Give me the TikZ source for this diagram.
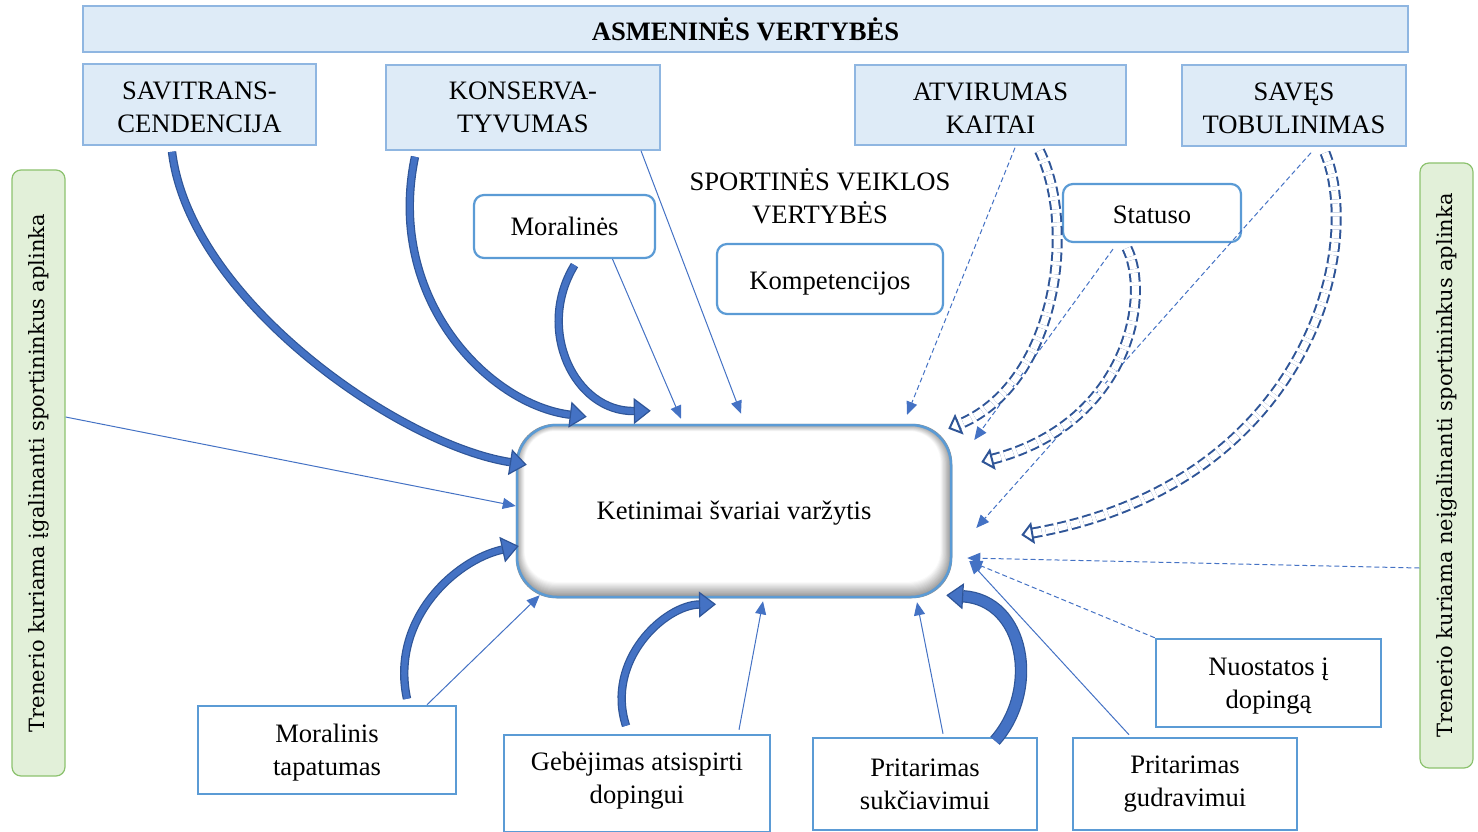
\documentclass[tikz,border=0pt]{standalone}
\usepackage{fontspec}
\setmainfont{Liberation Serif}
\newfontfamily\envfont{DejaVu Serif}
\usetikzlibrary{arrows.meta,backgrounds}

\definecolor{valfill}{HTML}{DEEBF7}
\definecolor{valline}{HTML}{8FB6E1}
\definecolor{boxline}{HTML}{5B9BD5}
\definecolor{arrblue}{HTML}{4472C4}
\definecolor{arrdark}{HTML}{2F5597}
\definecolor{envfill}{HTML}{E2F0D9}
\definecolor{envline}{HTML}{8CC26E}

\newcommand{\tpad}[1]{\rule{0pt}{#1pt}}

\tikzset{
  valbox/.style={draw=valline, fill=valfill, line width=1.5pt, align=center,
    inner sep=0pt},
  roundbox/.style={draw=boxline, fill=white, line width=2.2pt, rounded corners=10pt,
    align=center, inner sep=0pt},
  outbox/.style={draw=boxline, fill=white, line width=2.5pt, align=center, inner sep=0pt},
  envbox/.style={draw=envline, fill=envfill, line width=1.2pt, rounded corners=9pt,
    rotate=90, inner sep=0pt, font=\envfont\fontsize{21}{25}\selectfont},
  thin/.style={draw=arrblue, line width=1pt, -{Triangle[width=11pt,length=13pt]}},
  thindash/.style={thin, dash pattern=on 5pt off 3pt},
  block/.style={draw=arrdark, line width=1.2pt, double=arrblue, double distance=6pt,
    -{Triangle[width=26pt,length=17pt,fill=arrblue]}},
  blockdash/.style={draw=arrdark, line width=2pt, double=white, double distance=7pt,
    dash pattern=on 9pt off 4pt, -{Triangle[open,width=22pt,length=12pt]}},
}

\begin{document}
\begin{tikzpicture}[x=1pt,y=-1pt,font=\fontsize{26.6}{33}\selectfont]
  \useasboundingbox (0,0) rectangle (1478,832);

  % value groups
  \node[valbox, minimum width=1325pt, minimum height=46pt] (asm) at (745.5,29)
    {\textbf{ASMENINĖS VERTYBĖS}};
  \node[valbox, minimum width=233pt, minimum height=81pt] (savit) at (199.5,104.5)
    {\tpad{24}SAVITRANS-\\CENDENCIJA};
  \node[valbox, minimum width=274pt, minimum height=85pt] (konserv) at (523,107.5)
    {KONSERVA-\\TYVUMAS};
  \node[valbox, minimum width=271pt, minimum height=80pt] (atvir) at (990.5,105)
    {\tpad{24}ATVIRUMAS\\KAITAI};
  \node[valbox, minimum width=224pt, minimum height=81pt] (saves) at (1294,105.5)
    {\tpad{24}SAVĘS\\TOBULINIMAS};

  \node[align=center, inner sep=0pt] (sport) at (820,196) {SPORTINĖS VEIKLOS\\VERTYBĖS};
  \node[roundbox, minimum width=181pt, minimum height=63pt] (moral) at (564.5,226.5)
    {Moralinės};
  \node[roundbox, minimum width=226pt, minimum height=70pt] (kompet) at (830,279)
    {\tpad{26}Kompetencijos};
  \node[roundbox, minimum width=178pt, minimum height=58pt] (statuso) at (1152,213)
    {\tpad{22}Statuso};

  % central node
  \node[draw=boxline, line width=2.5pt, rounded corners=40pt, minimum width=434pt,
    minimum height=172pt, inner sep=0pt] (ket) at (734,511)
    {\tpad{23}Ketinimai švariai varžytis};
  \begin{scope}[on background layer]
    \foreach \i in {0,...,16}
      \fill[black!\fpeval{max(0,44-3*\i)}, rounded corners={40-0.6*\i}]
        ([shift={({0.6*\i},{0.5*\i})}]ket.north west) rectangle
        ([shift={({-0.8*\i},{-1.1*\i})}]ket.south east);
  \end{scope}

  % environments
  \node[envbox, minimum width=606pt, minimum height=53pt] (leftg) at (38.5,473)
    {Trenerio kuriama įgalinanti sportininkus aplinka};
  \node[envbox, minimum width=605pt, minimum height=53pt] (rightg) at (1446.5,465.5)
    {Trenerio kuriama neįgalinanti sportininkus aplinka};

  % outcomes
  \node[outbox, minimum width=258pt, minimum height=88pt] (tapat) at (327,750)
    {\tpad{24}Moralinis\\tapatumas};
  \node[outbox, minimum width=266pt, minimum height=97pt] (gebej) at (637,783.5)
    {Gebėjimas atsispirti\\dopingui\rule[-12pt]{0pt}{1pt}};
  \node[outbox, minimum width=224pt, minimum height=92pt] (sukc) at (925,784)
    {Pritarimas\\sukčiavimui};
  \node[outbox, minimum width=224pt, minimum height=92pt] (gudr) at (1185,784)
    {Pritarimas\\gudravimui};
  \node[outbox, minimum width=225pt, minimum height=88pt] (nuost) at (1268.5,683)
    {\tpad{24}Nuostatos į\\dopingą};

  % thin links
  \draw[thin] ([yshift=56pt]leftg.south) -- ([yshift=5pt]ket.west);
  \draw[thin] ([xshift=48pt]moral.south) -- ([xshift=-53pt,yshift=5pt]ket.north);
  \draw[thin] ([xshift=118pt]konserv.south) -- ([xshift=7pt,yshift=10pt]ket.north);
  \draw[thin] ([xshift=100pt]tapat.north) -- ([xshift=24pt,yshift=3pt]ket.south west);
  \draw[thin] ([xshift=102pt,yshift=4pt]gebej.north) -- ([xshift=29pt,yshift=-3pt]ket.south);
  \draw[thin] ([xshift=18pt,yshift=3pt]sukc.north) -- ([xshift=183pt,yshift=-4pt]ket.south);
  \draw[thin] ([xshift=-56pt,yshift=2pt]gudr.north) -- ([xshift=17pt,yshift=-50pt]ket.east);
  \draw[thindash] ([xshift=24.5pt,yshift=-2pt]atvir.south) -- ([xshift=173pt,yshift=9pt]ket.north);
  \draw[thindash] ([xshift=-39pt,yshift=-6pt]statuso.south) -- ([xshift=22pt,yshift=71pt]ket.east);
  \draw[thindash] ([xshift=17pt,yshift=-6pt]saves.south) -- ([xshift=24pt,yshift=-17pt]ket.east);
  \draw[thindash] ([yshift=-102.5pt]rightg.north) -- ([xshift=15pt,yshift=-47pt]ket.east);
  \draw[thindash] (nuost.north west) -- ([xshift=17pt,yshift=-50pt]ket.east);

  % block arrows
  \draw[block] ([xshift=-27.5pt,yshift=-6pt]savit.south)
    .. controls (190,300) and (400,445) .. ([xshift=11pt,yshift=-41pt]ket.north west);
  \draw[block] ([xshift=-108pt,yshift=-6pt]konserv.south)
    .. controls (385,300) and (490,405) .. ([xshift=71pt,yshift=7pt]ket.north west);
  \draw[block] ([xshift=10pt,yshift=-6pt]moral.south)
    .. controls (535,330) and (575,412) .. ([xshift=135pt,yshift=13pt]ket.north west);
  \draw[block] ([xshift=80pt,yshift=6pt]tapat.north)
    .. controls (390,620) and (455,560) .. ([xshift=3pt,yshift=-35pt]ket.west);
  \draw[block] ([xshift=-11pt,yshift=8pt]gebej.north)
    .. controls (605,660) and (665,605) .. ([xshift=-18pt,yshift=-6pt]ket.south);
  \draw[block, double distance=10pt] ([xshift=70pt,yshift=-4pt]sukc.north)
    .. controls (1040,690) and (1025,600) .. ([xshift=-6pt,yshift=3pt]ket.south east);

  \draw[blockdash] ([xshift=49pt,yshift=-5pt]atvir.south)
    .. controls (1078,230) and (1055,385) .. ([xshift=-4pt,yshift=-5pt]ket.north east);
  \draw[blockdash] ([xshift=-25pt,yshift=-5pt]statuso.south)
    .. controls (1152,300) and (1125,425) .. ([xshift=29pt,yshift=49pt]ket.east);
  \draw[blockdash] ([xshift=31pt,yshift=-6pt]saves.south)
    .. controls (1365,250) and (1305,485) .. ([xshift=69pt,yshift=-24pt]ket.east);
\end{tikzpicture}
\end{document}
